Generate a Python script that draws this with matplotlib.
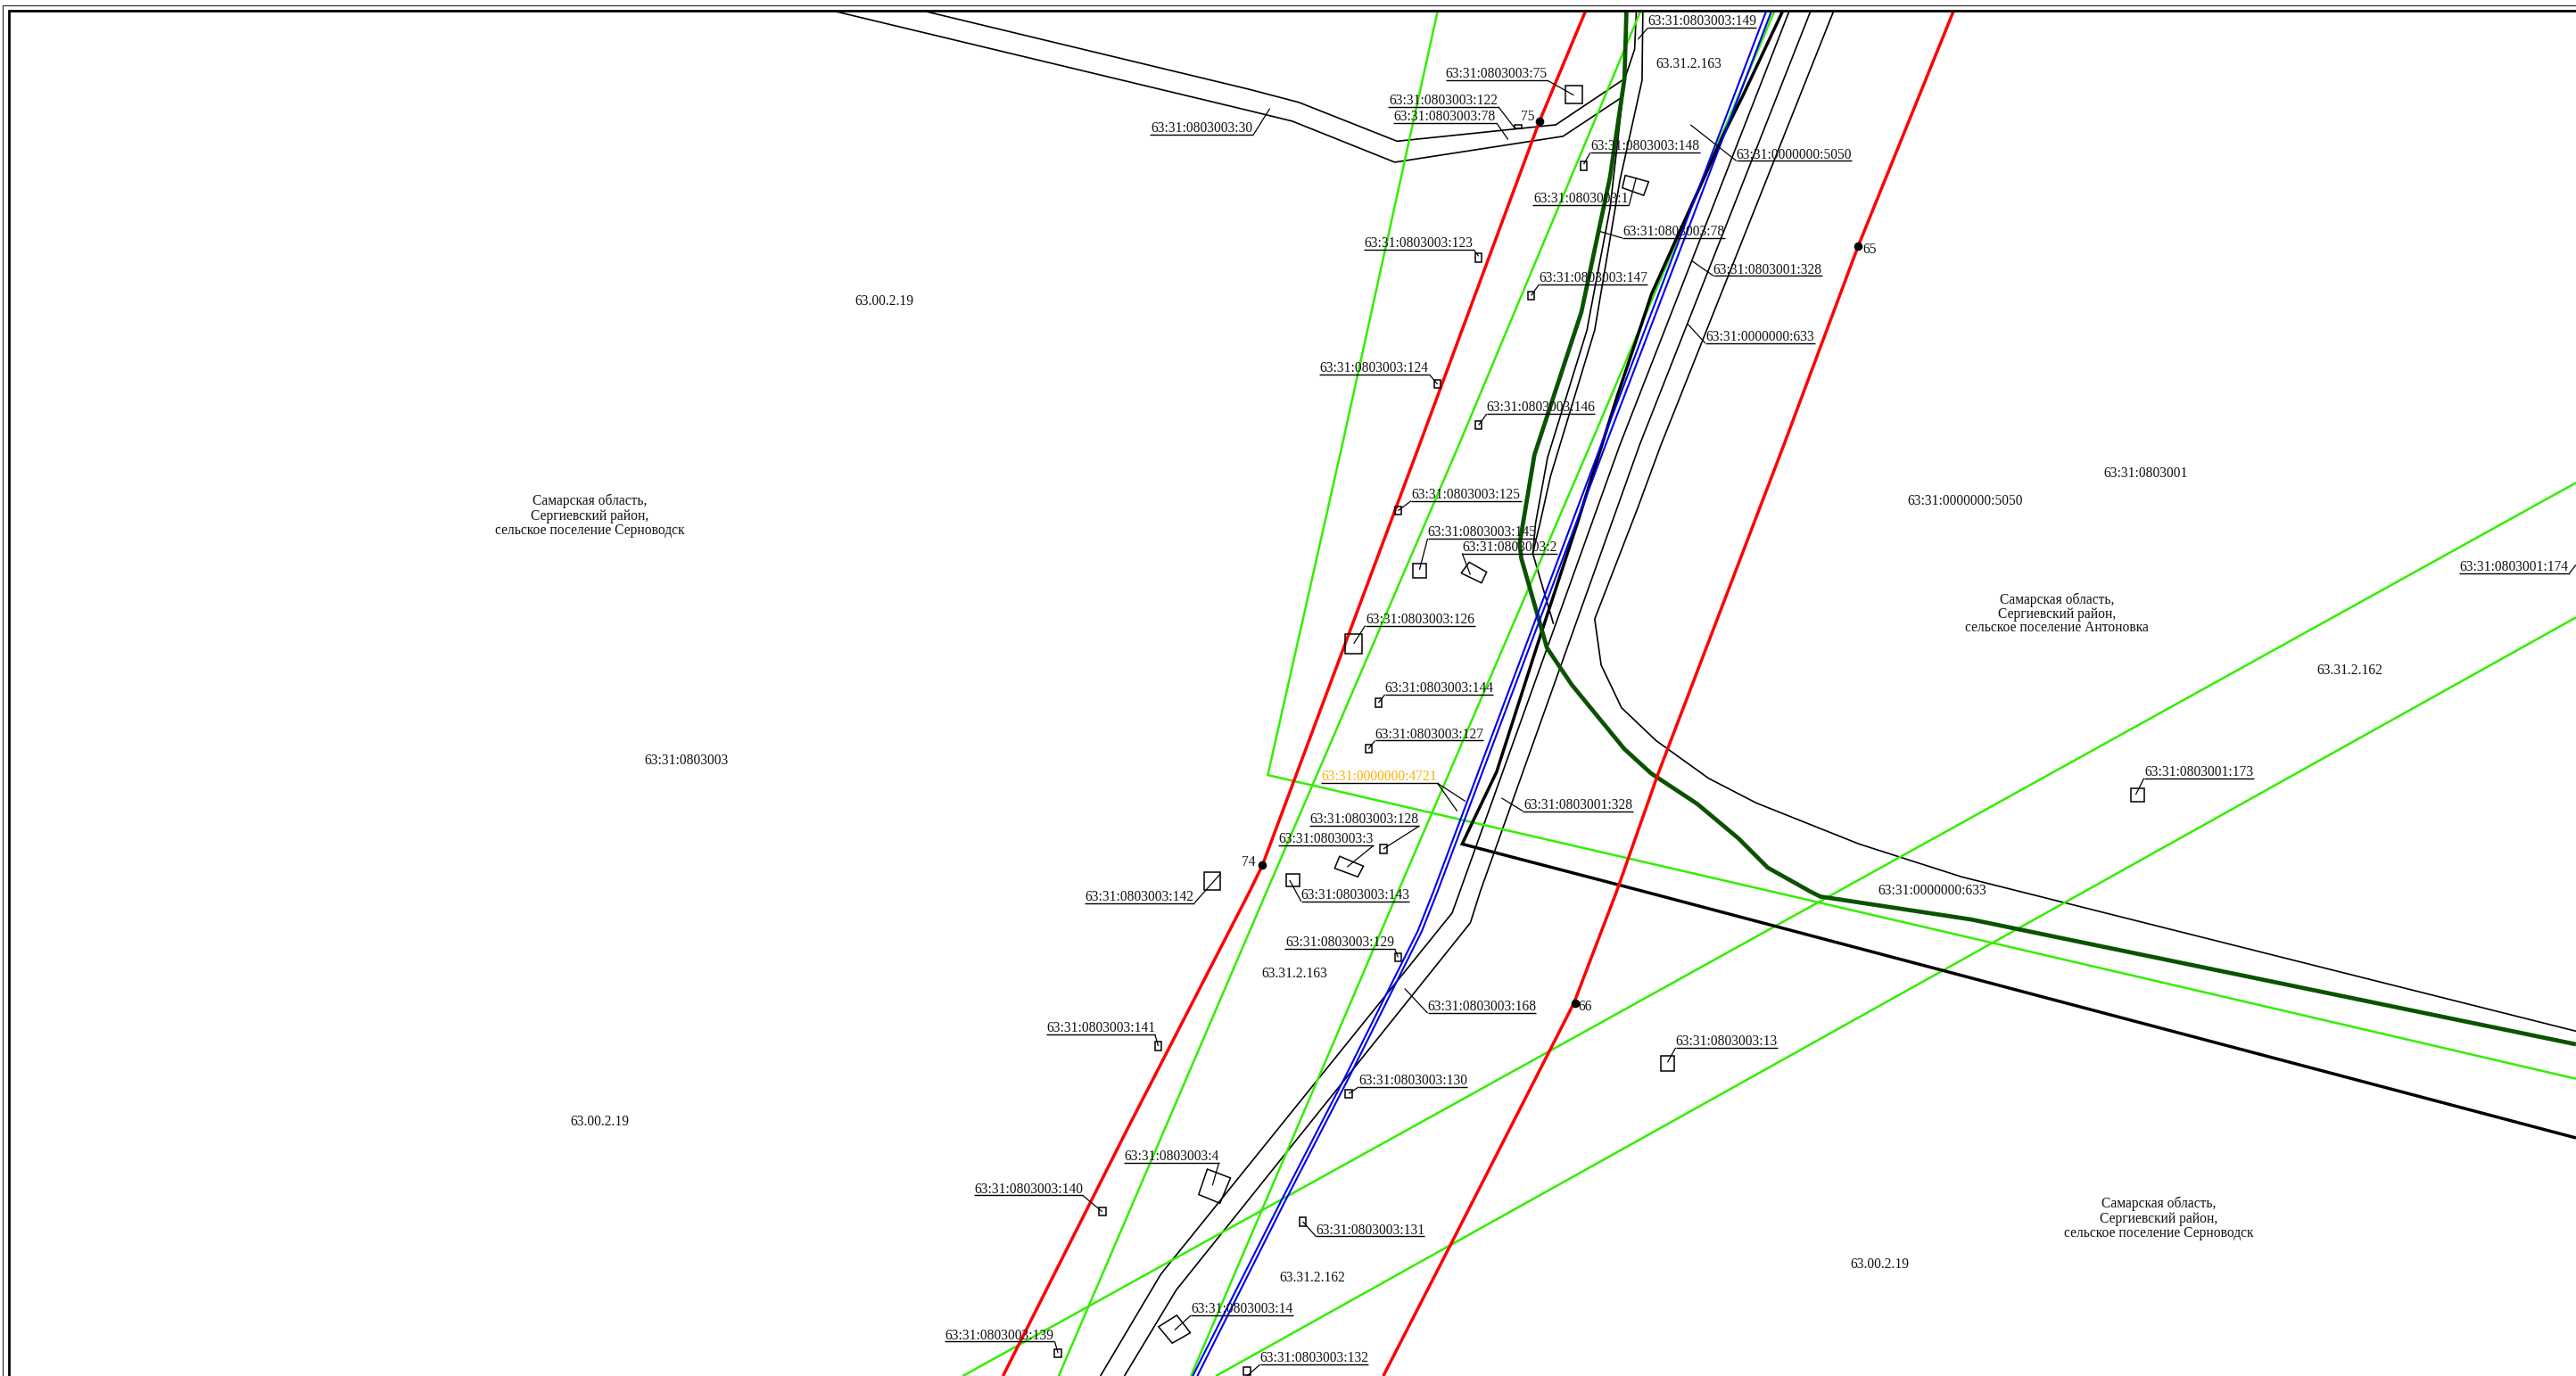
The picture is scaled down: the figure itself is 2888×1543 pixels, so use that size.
import matplotlib
matplotlib.use("Agg")
import matplotlib.pyplot as plt
from matplotlib.patches import Polygon, Rectangle

plt.rcParams['font.family'] = ['Liberation Serif', 'DejaVu Serif']

# map coordinates: x, y in sheet units (1568 x 838)
red_west = [(965,7),(937,74),(864,271),(768.4,527),(760.6,543),(686,688),(610.5,838)]
red_east = [(1189,7),(1131,150),(1085.8,271),(1009,472),(984,543),(958,611),(882.5,759),(842,838)]
green_a = [(875,7),(817,271),(771.7,472),(1078.7,543),(1568,657)]
green_b = [(998.5,7),(888,271),(771,543),(644.4,838)]
green_c = [(1080,7),(968,271),(851,543),(724.9,838)]
green_d = [(586,838),(1568,294)]
green_e = [(740,838),(1568,376)]
blue_a = [(1075,7),(974.6,271),(872.5,543),(863,567),(818.7,656),(780,731),(726,838)]
blue_b = [(1078.2,7),(977.3,271),(875,543),(865.5,567),(821.2,656),(782.5,731),(728.8,838)]
boundary = [(1085,7),(1061,58),(1049.6,81),(1020.6,145),(1005.3,179),(997,204),(984.5,241),(960,319),
            (937,389),(911,470),(890,514),(1001,543),(1568,693)]
strip_a = [(1089,7),(986,271),(888.6,543),(883.9,556),(706.6,776),(669.8,838)]
strip_b = [(1102,7),(998,271),(901,543),(895,562),(716,785.6),(684.4,838)]
strip_c = [(1116,7),(1011,271),(997,309),(970.7,377),(974.6,405),(987,431),(1008,451),
           (1040,474),(1069,489),(1131.6,514),(1194,534),(1568,628)]
river = [(990,7),(988.8,48),(980,108),(962.6,190),(934,277),(925,331),(926,340),(941.6,394.5),(956.7,417),
         (988.6,456),(1005,471),(1033,489.5),(1058,510.4),(1076,528.4),(1102,543),(1108,546),(1200,560),(1568,636)]
track_a = [(1000,7),(999.5,49),(986,110),(970.7,201),(943.8,290),(937.4,318.6),(933,337),(945.6,380)]
track_b = [(996,7),(995,30),(989,48),(980,127),(968,190),(966,201),(942,278.6),(934.7,318.6),(933,337)]
road_n = [(563.6,7),(760,54.3),(790.8,62.4),(850.4,86),(947,76),(988.8,48)]
road_s = [(508.7,7),(760,67.3),(786.6,73.8),(849,98.8),(951.4,83),(987,59.4)]

label_text = ["63:31:0803003:149","63:31:0803003:75","63:31:0803003:122","63:31:0803003:78","63:31:0803003:30",
 "63:31:0803003:148","63:31:0803003:1","63:31:0803003:78","63:31:0000000:5050","63:31:0803003:123",
 "63:31:0803001:328","63:31:0803003:147","63:31:0000000:633","63:31:0803003:124","63:31:0803003:146",
 "63:31:0803003:125","63:31:0803003:145","63:31:0803003:2","63:31:0803003:126","63:31:0803003:144",
 "63:31:0803003:127","63:31:0803001:328","63:31:0803003:128","63:31:0803003:3","63:31:0803003:142",
 "63:31:0803003:143","63:31:0803003:129","63:31:0803003:168","63:31:0803003:141","63:31:0803003:13",
 "63:31:0803003:130","63:31:0803001:173","63:31:0803001:174","63:31:0803003:4","63:31:0803003:140",
 "63:31:0803003:131","63:31:0803003:14","63:31:0803003:139","63:31:0803003:132"]
label_x0 = [1003,880,845,848,700,968,933,987.6,1057,830,1043,937,1038,803,905,859,869,890,831,843,837,927,797,778,660,792,782,869,637,1020,827,1305,1497,684,593,801,725,575,767]
label_x1 = [1069,942,912,911,763,1035,991.6,1050,1127,897,1109,1003,1105,870,971,926,935,948,898,909,903,994,864,836,727,858,849,935,703,1082,893,1372,1564,742,659,867,787,642,833]
label_y = [13,45,61,71,78,89,121,141,94,148,164,169,205,224,248,301,324,333,377,419,447,490,499,511,546,545,574,613,626,634,658,470,345,704,724,749,797,813,827]
# leader: which end of the underline it leaves from, and where it arrives
leader_side = [0,1,1,1,1,0,1,0,0,1,0,0,0,1,0,0,0,0,0,0,0,0,1,1,1,0,1,0,1,0,0,0,1,1,1,0,0,1,0]
leader_x = [997,958,922,918,773,964,996,974,1029,900,1030,932,1027,875,900,851,864,895,824,839,833,914,842,820,743,785,851,855,705,1015,821,1300,1568,738,671,793,715,644,759]
leader_y = [24,58,78,85,66,100,108,141,76,156,159,180,197,234,259,311,347,350,392,428,456,486,517,528,532,536,583,602,637,647,666,484,344,722,738,744,810,824,838]

orange_text = "63:31:0000000:4721"
orange_span = (804, 875)
orange_y = 473
orange_leaders = [(892,488),(887,494)]

sq_x = [953,922,964,900,932,875,900,851,860,819,839,833,842,733,783,851,705,1011,821,1297,671,793,644,759]
sq_y = [52,76,101,157,180,234,259,311,343,386,428,456,517,531,532,583,637,643,666,480,738,744,824,835]
sq_w = [10,4,4,4,4,4,4,4,8,10,4,4,4,10,8,4,4,8,4,8,4,4,4,4]
sq_h = [11,2,5,5,5,5,5,5,9,12,5,5,5,11,8,5,5,9,5,8,5,5,5,5]
sq_centered = [0,0,1,1,1,1,1,1,0,0,1,1,1,0,0,1,1,0,1,0,1,1,1,1]

house_1 = [(989.3,106.8),(1003.5,110.7),(1000.5,119),(987.5,114.4)]
house_2 = [(894.3,342.4),(904.9,348.4),(901.8,355),(889.4,349)]
house_3 = [(815.4,521.5),(829.9,527.5),(826.5,534),(812.4,528.8)]
house_4 = [(734.9,712),(749,717.4),(742.6,732.8),(729.6,727.5)]
house_14 = [(716.3,801),(724.6,811.7),(713.5,818),(705.2,808)]

plain_text = ["63.31.2.163","63.00.2.19","Самарская область,","Сергиевский район,","сельское поселение Серноводск",
 "63:31:0000000:5050","63:31:0803001","Самарская область,","Сергиевский район,","сельское поселение Антоновка",
 "63.31.2.162","63:31:0803003","63:31:0000000:633","63.31.2.163","63.00.2.19","63.31.2.162","63.00.2.19",
 "Самарская область,","Сергиевский район,","сельское поселение Серноводск","65","66","74","75"]
plain_x = [1028,538,359,359,359,1196,1306,1252,1252,1252,1430,418,1176,788,365,799,1144,1314,1314,1314,1138,965,760,930]
plain_y = [39,183,305,314,323,305,288,365,374,382,408,463,542,593,683,778,770,733,742,751,152,613,525,71]

dots_x = [1131,959,768,937]
dots_y = [150,611,527,74]

sheet_w, sheet_h = 1568, 838
frame_outer = (1.8, 3.3)
frame_inner = (5.4, 6.5)

fig = plt.figure(figsize=(28.88, 15.43), dpi=100, facecolor='white')
ax = fig.add_axes([0, 0, 1, 1])
ax.set_xlim(0, sheet_w)
ax.set_ylim(sheet_h, 0)
ax.axis('off')

def pl(pts, color='black', lw=1.1, z=2):
    ax.plot([p[0] for p in pts], [p[1] for p in pts], color=color, lw=lw, zorder=z,
            solid_joinstyle='miter', solid_capstyle='butt')

for pts in (road_n, road_s, strip_a, strip_b, strip_c, track_a, track_b):
    pl(pts, lw=1.2)
for pts in (green_a, green_b, green_c, green_d, green_e):
    pl(pts, color='#33ee00', lw=1.8, z=3)
pl(boundary, lw=2.5, z=3)
pl(river, color='#0b5200', lw=3.4, z=4)
pl(blue_a, color='#0000f0', lw=1.5, z=5)
pl(blue_b, color='#0000f0', lw=1.5, z=5)
for pts in (red_west, red_east):
    pl(pts, color='#ff0000', lw=2.5, z=6)

for t, x0, x1, y, s, lx, ly in zip(label_text, label_x0, label_x1, label_y, leader_side, leader_x, leader_y):
    ax.text((x0+x1)/2, y + 0.3, t, ha='center', va='center', fontsize=11.2, color='#111111', zorder=8)
    uy = y + 4
    pl([(x0, uy), (x1, uy)], lw=1.0, z=8)
    pl([(x1 if s else x0, uy), (lx, ly)], lw=0.9, z=8)

ax.text(sum(orange_span)/2, orange_y + 0.3, orange_text, ha='center', va='center', fontsize=11.2, color='#ffb000', zorder=8)
pl([(orange_span[0], orange_y+4), (orange_span[1], orange_y+4)], lw=1.0, z=8)
for p in orange_leaders:
    pl([(orange_span[1], orange_y+4), p], lw=0.9, z=8)

for x, y, w, h, c in zip(sq_x, sq_y, sq_w, sq_h, sq_centered):
    if c:
        x, y = x - w/2, y - h/2
    ax.add_patch(Rectangle((x, y), w, h, fill=False, ec='black', lw=1.1, zorder=7))
for poly in (house_1, house_2, house_3, house_4, house_14):
    ax.add_patch(Polygon(poly, closed=True, fill=False, ec='black', lw=1.1, zorder=7))

for t, x, y in zip(plain_text, plain_x, plain_y):
    ax.text(x, y + 0.3, t, ha='center', va='center', fontsize=11.2, color='#111111', zorder=8)
ax.scatter(dots_x, dots_y, s=48, color='black', zorder=9, linewidths=0)

# mask beyond inner frame, then frame
ax.add_patch(Rectangle((0, 0), sheet_w, frame_inner[1], fc='white', ec='none', zorder=20))
ax.add_patch(Rectangle((0, 0), frame_inner[0], sheet_h, fc='white', ec='none', zorder=20))
pl([(frame_outer[0], sheet_h), (frame_outer[0], frame_outer[1]), (sheet_w, frame_outer[1])], lw=0.9, z=21, color='#333333')
pl([(frame_inner[0], sheet_h), (frame_inner[0], frame_inner[1]), (sheet_w, frame_inner[1])], lw=2.0, z=21)

fig.savefig('out.png', dpi=100)
